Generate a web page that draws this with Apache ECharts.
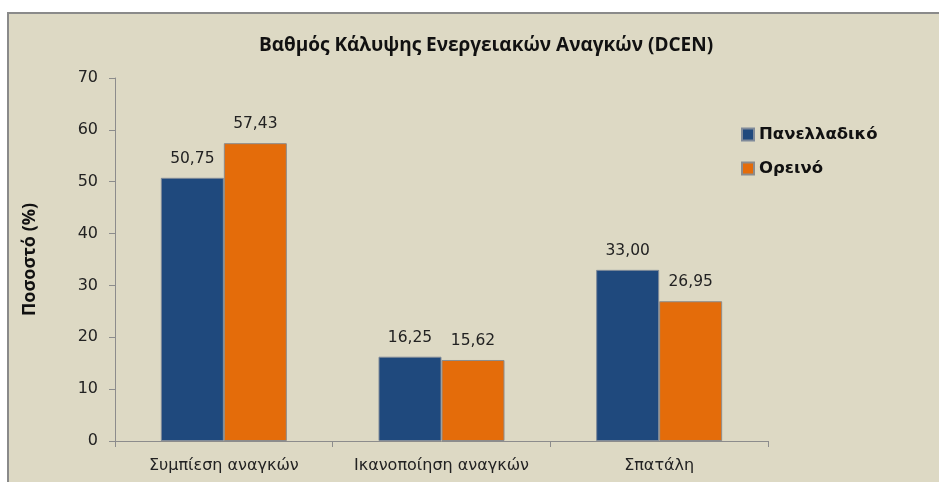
<!DOCTYPE html>
<html>
<head>
<meta charset="utf-8">
<script src="https://cdn.jsdelivr.net/npm/echarts@6/dist/echarts.min.js"></script>
<style>
  html, body { margin: 0; padding: 0; background: #ffffff; }
  #chart { width: 939px; height: 482px; }
</style>
</head>
<body>
<div id="chart"></div>
<script>
// Categories and series values
const categories = ['Συμπίεση αναγκών', 'Ικανοποίηση αναγκών', 'Σπατάλη'];
const seriesNames = ['Πανελλαδικό', 'Ορεινό'];
const panelladiko = [50.75, 16.25, 33.00];
const oreino = [57.43, 15.62, 26.95];
const yTicks = [0, 10, 20, 30, 40, 50, 60, 70];

const chart = echarts.init(document.getElementById('chart'), null, { renderer: 'canvas' });

const labelFmt = p => p.value.toFixed(2).replace('.', ',');
const axisGrey = '#8c8c8c';
const tickFont = 'DejaVu Sans';

chart.setOption({
  animation: false,
  backgroundColor: '#ffffff',
  graphic: [{
    type: 'rect',
    z: -10,
    shape: { x: 8, y: 13, width: 940, height: 480 },
    style: { fill: '#DDD9C4', stroke: '#8a8a8a', lineWidth: 2 }
  }],
  title: {
    text: 'Βαθμός Κάλυψης Ενεργειακών Αναγκών (DCEN)',
    left: 481,
    textAlign: 'center',
    top: 31,
    textStyle: { fontFamily: 'Open Sans', fontWeight: 'bold', fontSize: 19, color: '#111' }
  },
  legend: {
    orient: 'vertical',
    left: 736,
    top: 121,
    itemWidth: 12,
    itemHeight: 12,
    itemGap: 17,
    itemTextGap: 5,
    icon: 'rect',
    data: seriesNames,
    textStyle: { fontFamily: 'DejaVu Sans', fontWeight: 'bold', fontSize: 16.5, color: '#111' }
  },
  grid: { left: 115, right: 171, top: 78, bottom: 41, containLabel: false },
  xAxis: {
    type: 'category',
    data: categories,
    axisLine: { lineStyle: { color: axisGrey, width: 1 } },
    axisTick: { show: true, length: 6, lineStyle: { color: axisGrey } },
    axisLabel: { interval: 0, hideOverlap: false, fontFamily: tickFont, fontSize: 16, color: '#222', margin: 17 }
  },
  yAxis: {
    type: 'value',
    min: yTicks[0],
    max: yTicks[yTicks.length - 1],
    interval: 10,
    name: 'Ποσοστό (%)',
    nameLocation: 'middle',
    nameGap: 76,
    nameTextStyle: { fontFamily: 'Open Sans', fontWeight: 'bold', fontSize: 18, color: '#111' },
    axisLine: { show: true, lineStyle: { color: axisGrey, width: 1 } },
    axisTick: { show: true, length: 6, lineStyle: { color: axisGrey } },
    splitLine: { show: false },
    axisLabel: { fontFamily: tickFont, fontSize: 16, color: '#222', margin: 17 }
  },
  series: [
    {
      name: seriesNames[0],
      type: 'bar',
      data: panelladiko,
      barWidth: 63,
      barGap: '0%',
      itemStyle: { color: '#1F497D', borderColor: '#7f8a99', borderWidth: 1 },
      label: { show: true, position: 'top', distance: 11, formatter: labelFmt,
               fontFamily: tickFont, fontSize: 15.5, color: '#222' }
    },
    {
      name: seriesNames[1],
      type: 'bar',
      data: oreino,
      barWidth: 63,
      barGap: '0%',
      itemStyle: { color: '#E46C0A', borderColor: '#8c8c8c', borderWidth: 1 },
      label: { show: true, position: 'top', distance: 11, formatter: labelFmt,
               fontFamily: tickFont, fontSize: 15.5, color: '#222' }
    }
  ]
});
</script>
</body>
</html>
